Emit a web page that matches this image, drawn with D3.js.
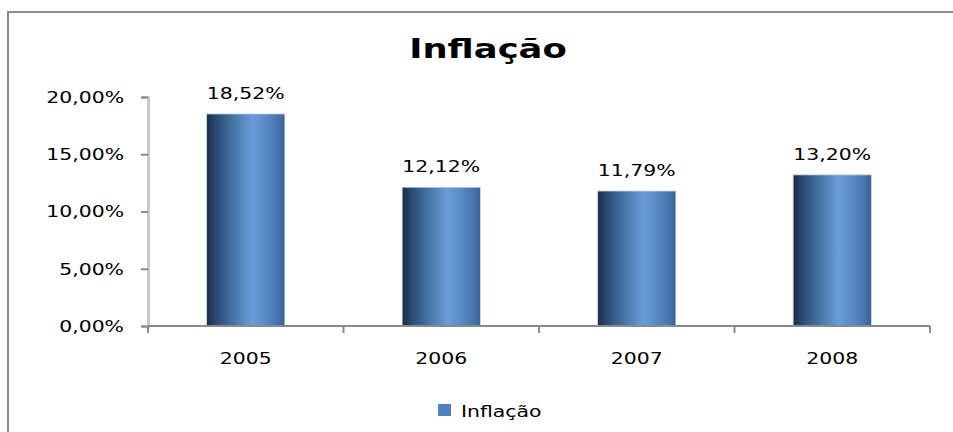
<!DOCTYPE html>
<html>
<head>
<meta charset="utf-8">
<script src="https://cdnjs.cloudflare.com/ajax/libs/d3/7.8.5/d3.min.js"></script>
<style>
  body { margin: 0; background: #fff; }
  text { font-family: "DejaVu Sans", Verdana, sans-serif; fill: #000; }
</style>
</head>
<body>
<svg id="chart" width="953" height="432"></svg>
<script>
var categories = ["2005", "2006", "2007", "2008"];
var values = [18.52, 12.12, 11.79, 13.20];
var yTicks = [0, 5, 10, 15, 20];
var seriesName = "Inflação";

var svg = d3.select("#chart"),
    stretch = 1.36,
    x0 = 148, x1 = 930, yBottom = 326, yTop = 97;

// stretch text horizontally like the original picture
function widen(sel) {
  sel.each(function () {
    var n = this.getComputedTextLength();
    d3.select(this).attr("textLength", n * stretch).attr("lengthAdjust", "spacingAndGlyphs");
  });
}

var fmt = function (v) { return v.toFixed(2).replace(".", ",") + "%"; };

// frame
svg.append("rect").attr("x", 8).attr("y", 12).attr("width", 1000).attr("height", 500)
  .attr("fill", "none").attr("stroke", "#8c8c8c").attr("stroke-width", 2);

var defs = svg.append("defs");
var grad = defs.append("linearGradient").attr("id", "barGrad")
  .attr("x1", "0%").attr("x2", "100%").attr("y1", "0%").attr("y2", "0%");
[["0%", "#1b2c45"], ["12%", "#2b4a74"], ["32%", "#43719f"], ["58%", "#6a9cd8"], ["72%", "#5d8ecb"], ["92%", "#4673ad"], ["100%", "#3a5f92"]]
  .forEach(function (s) { grad.append("stop").attr("offset", s[0]).attr("stop-color", s[1]); });

var x = d3.scaleBand().domain(categories).range([x0, x1]).paddingInner(0.6).paddingOuter(0.3);
var y = d3.scaleLinear().domain([0, 20]).range([yBottom, yTop]);

// title
svg.append("text").attr("x", 488).attr("y", 58).attr("text-anchor", "middle")
  .style("font-size", "26px").style("font-weight", "bold").text("Inflação").call(widen);

// y axis
var yAxis = svg.append("g").attr("transform", "translate(" + x0 + ",0)")
  .call(d3.axisLeft(y).tickValues(yTicks).tickSize(7).tickPadding(17).tickFormat(fmt));
yAxis.select(".domain").attr("stroke", "#c8c8c8").attr("stroke-width", 3);
yAxis.selectAll(".tick line").attr("stroke", "#8a8a8a").attr("stroke-width", 2);
// right-aligned labels: anchor at start so the stretch grows leftwards
yAxis.selectAll(".tick text").style("font-size", "15px").attr("dy", "0.35em")
  .each(function () {
    var n = this.getComputedTextLength();
    d3.select(this).attr("text-anchor", "start").attr("x", -24 - n * stretch)
      .attr("textLength", n * stretch).attr("lengthAdjust", "spacingAndGlyphs");
  });

// bars
svg.selectAll(".bar").data(values).enter().append("rect").attr("class", "bar")
  .attr("x", function (d, i) { return x(categories[i]); })
  .attr("width", x.bandwidth())
  .attr("y", function (d) { return y(d); })
  .attr("height", function (d) { return yBottom - y(d); })
  .attr("fill", "url(#barGrad)")
  .attr("stroke", "#c9d6e6").attr("stroke-width", 0.8);

// value labels
svg.selectAll(".lbl").data(values).enter().append("text").attr("class", "lbl")
  .attr("x", function (d, i) { return x(categories[i]) + x.bandwidth() / 2; })
  .attr("y", function (d) { return y(d) - 15; })
  .attr("text-anchor", "middle").style("font-size", "15px")
  .text(fmt).call(widen);

// x axis with ticks at category boundaries
var step = (x1 - x0) / categories.length;
var xg = svg.append("g").attr("transform", "translate(0," + yBottom + ")");
xg.append("line").attr("x1", x0).attr("x2", x1).attr("stroke", "#8a8a8a").attr("stroke-width", 2);
xg.selectAll(".xt").data(d3.range(categories.length + 1)).enter().append("line")
  .attr("x1", function (i) { return x0 + i * step; }).attr("x2", function (i) { return x0 + i * step; })
  .attr("y1", 0).attr("y2", 7).attr("stroke", "#8a8a8a").attr("stroke-width", 2);
xg.selectAll(".xl").data(categories).enter().append("text")
  .attr("x", function (d) { return x(d) + x.bandwidth() / 2; })
  .attr("y", 38).attr("text-anchor", "middle").style("font-size", "15px")
  .text(function (d) { return d; }).call(widen);

// legend
svg.append("rect").attr("x", 438).attr("y", 404).attr("width", 13).attr("height", 12).attr("fill", "#4f81bd");
svg.append("text").attr("x", 461).attr("y", 417).style("font-size", "15px").text(seriesName).call(widen);
</script>
</body>
</html>
